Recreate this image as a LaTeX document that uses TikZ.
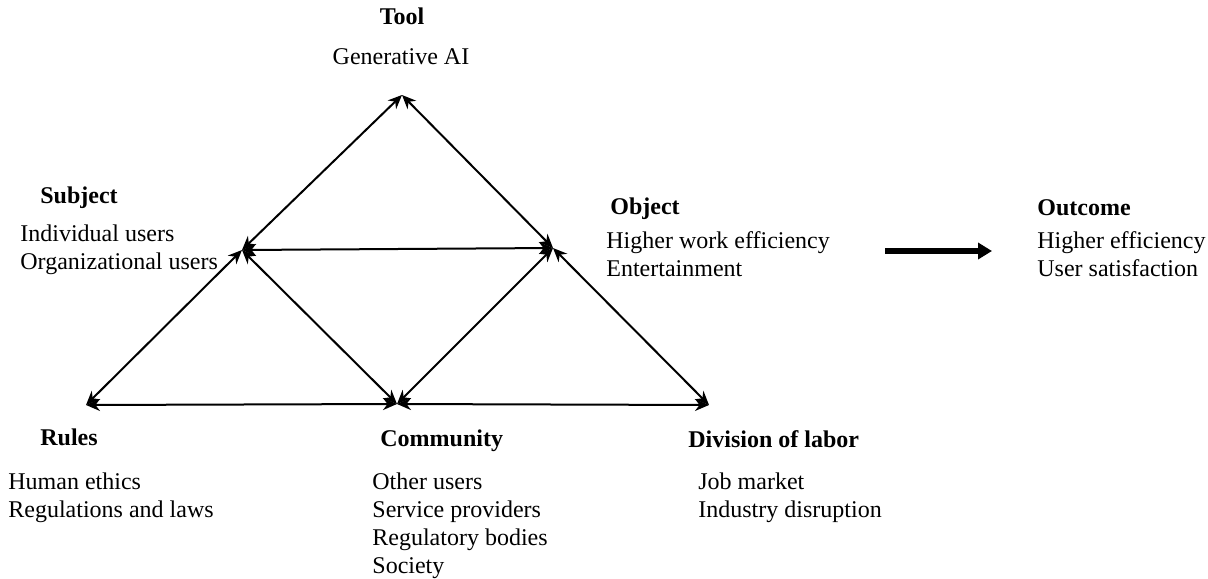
\documentclass[tikz,border=0pt,12pt]{standalone}
\usepackage{fontspec}
\setmainfont{Liberation Serif}
\usetikzlibrary{arrows.meta}
\tikzset{
	link/.style={line width=1pt,{Stealth[length=7pt,width=6pt]}-{Stealth[length=7pt,width=6pt]}},
	txt/.style={anchor=north west,inner sep=0pt,align=left,font=\fontsize{12}{14}\selectfont},
	head/.style={anchor=base west,inner sep=0pt,font=\fontsize{12}{14}\selectfont\bfseries}
}
\begin{document}
\begin{tikzpicture}[x=0.5pt,y=-0.5pt]
\useasboundingbox (0,0) rectangle (1208,578);
\coordinate (tool) at (402,95);
\coordinate (subj) at (242,250);
\coordinate (obj) at (553,248);
\coordinate (comm) at (397,404);
\coordinate (rules) at (86,405);
\coordinate (div) at (709,405);
\coordinate (outA) at (885,251);
\coordinate (outB) at (992,251);
\node[head,anchor=base] (toolhd) at (402,25) {Tool};
\node[txt,anchor=base] (toolit) at (401,64) {Generative AI};
\node[head] (subjhd) at (40,203) {Subject};
\node[txt] (subjit) at (20,224) {Individual users\\Organizational users};
\node[head] (objhd) at (610,214) {Object};
\node[txt] (objit) at (606,231) {Higher work efficiency\\Entertainment};
\node[head] (outhd) at (1037,215) {Outcome};
\node[txt] (outit) at (1037,231) {Higher efficiency\\User satisfaction};
\node[head] (ruleshd) at (40,445) {Rules};
\node[txt] (rulesit) at (8,472) {Human ethics\\Regulations and laws};
\node[head] (commhd) at (380,446) {Community};
\node[txt] (commit) at (372,472) {Other users\\Service providers\\Regulatory bodies\\Society};
\node[head] (divhd) at (688,447) {Division of labor};
\node[txt] (divit) at (698,472) {Job market\\Industry disruption};
\draw [link] (subj) to (tool);
\draw [link] (tool) to (obj);
\draw [link] (subj) to (obj);
\draw [link] (subj) to (rules);
\draw [link] (obj) to (div);
\draw [link] (comm) to (subj);
\draw [link] (comm) to (obj);
\draw [link] (comm) to (rules);
\draw [link] (comm) to (div);
\draw [line width=3pt,-{Triangle[length=7pt,width=8pt]}] (outA) to (outB);
\end{tikzpicture}
\end{document}
